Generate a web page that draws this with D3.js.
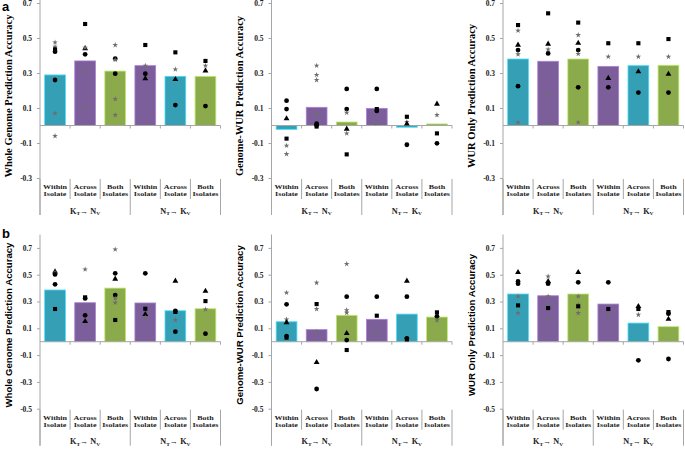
<!DOCTYPE html>
<html>
<head>
<meta charset="utf-8">
<script src="https://cdn.jsdelivr.net/npm/d3@7"></script>
<style>
  body { margin: 0; background: #fff; }
  svg { display: block; }
</style>
</head>
<body>
<svg id="chart" width="685" height="449"></svg>
<script>
// categories along the x axis (two lines each) and the two transfer groups
const categoryLines = [["Within", "Isolate"], ["Across", "Isolate"], ["Both", "Isolates"],
                       ["Within", "Isolate"], ["Across", "Isolate"], ["Both", "Isolates"]];
const groupLabels = [["K", "T", "N", "V"], ["N", "T", "K", "V"]];
const barColors = ["#35a0b5", "#7c5e9b", "#8aaa4c", "#7c5e9b", "#35a0b5", "#8aaa4c"];

const titles = ["Whole Genome Prediction Accuracy", "Genome-WUR Prediction Accuracy", "WUR Only Prediction Accuracy"];
const ticksA = [0.7, 0.5, 0.3, 0.1, -0.1, -0.3];
const ticksB = [0.7, 0.5, 0.3, 0.1, -0.1, -0.3, -0.5];

// bar heights (mean accuracy), one per category
const a1Bars = [0.289, 0.369, 0.311, 0.342, 0.281, 0.281];
const a2Bars = [-0.022, 0.104, 0.02, 0.098, -0.01, 0.009];
const a3Bars = [0.38, 0.367, 0.38, 0.338, 0.342, 0.344];
const b1Bars = [0.386, 0.291, 0.4, 0.289, 0.231, 0.246];
const b2Bars = [0.149, 0.09, 0.197, 0.167, 0.206, 0.184];
const b3Bars = [0.356, 0.343, 0.356, 0.281, 0.139, 0.112];

// individual points: [category, shape, value]
const a1Points = [
  [0, "star", 0.475], [0, "star", 0.45], [0, "square", 0.435], [0, "circle", 0.422], [0, "circle", 0.26], [0, "star", 0.07], [0, "star", -0.06],
  [1, "square", 0.58], [1, "triangle", 0.44], [1, "star", 0.445], [1, "circle", 0.407], [1, "star", 0.313], [1, "star", 0.104],
  [2, "star", 0.46], [2, "circle", 0.382], [2, "star", 0.375], [2, "circle", 0.296], [2, "star", 0.151], [2, "star", 0.06],
  [3, "square", 0.46], [3, "star", 0.342], [3, "circle", 0.296], [3, "triangle", 0.268],
  [4, "square", 0.418], [4, "star", 0.321], [4, "triangle", 0.264], [4, "circle", 0.117],
  [5, "square", 0.369], [5, "star", 0.342], [5, "triangle", 0.313], [5, "circle", 0.111]
];
const a2Points = [
  [0, "circle", 0.142], [0, "circle", 0.094], [0, "triangle", 0.039], [0, "square", -0.075], [0, "star", -0.115], [0, "star", -0.163],
  [1, "star", 0.342], [1, "star", 0.289], [1, "star", 0.26], [1, "star", 0.066], [1, "circle", 0.01], [1, "circle", 0.002], [1, "square", -0.006],
  [2, "circle", 0.209], [2, "circle", 0.094], [2, "star", 0.073], [2, "triangle", -0.02], [2, "star", -0.045], [2, "square", -0.165],
  [3, "circle", 0.209], [3, "square", 0.094], [3, "circle", 0.083], [3, "star", 0.012],
  [4, "square", 0.05], [4, "star", 0.02], [4, "triangle", 0.009], [4, "circle", -0.11],
  [5, "triangle", 0.123], [5, "star", 0.06], [5, "square", -0.045], [5, "circle", -0.102]
];
const a3Points = [
  [0, "square", 0.574], [0, "star", 0.542], [0, "triangle", 0.46], [0, "circle", 0.431], [0, "star", 0.407], [0, "circle", 0.225], [0, "star", 0.018],
  [1, "square", 0.641], [1, "triangle", 0.466], [1, "star", 0.435], [1, "circle", 0.412], [1, "star", 0.178], [1, "star", 0.018],
  [2, "square", 0.588], [2, "star", 0.517], [2, "triangle", 0.471], [2, "circle", 0.431], [2, "star", 0.409], [2, "circle", 0.218], [2, "star", 0.018],
  [3, "square", 0.47], [3, "star", 0.393], [3, "triangle", 0.27], [3, "circle", 0.218],
  [4, "square", 0.47], [4, "star", 0.393], [4, "triangle", 0.308], [4, "circle", 0.188],
  [5, "square", 0.494], [5, "star", 0.393], [5, "triangle", 0.294], [5, "circle", 0.188]
];
const b1Points = [
  [0, "triangle", 0.522], [0, "star", 0.515], [0, "circle", 0.502], [0, "circle", 0.428], [0, "square", 0.244],
  [1, "star", 0.54], [1, "square", 0.331], [1, "circle", 0.323], [1, "circle", 0.197], [1, "star", 0.162], [1, "triangle", 0.152],
  [2, "star", 0.689], [2, "circle", 0.51], [2, "triangle", 0.468], [2, "circle", 0.348], [2, "star", 0.323], [2, "star", 0.291], [2, "square", 0.162],
  [3, "circle", 0.51], [3, "square", 0.246], [3, "triangle", 0.204], [3, "star", 0.182],
  [4, "triangle", 0.453], [4, "circle", 0.229], [4, "square", 0.222], [4, "star", 0.162], [4, "circle", 0.075],
  [5, "triangle", 0.378], [5, "square", 0.303], [5, "star", 0.241], [5, "circle", 0.06]
];
const b2Points = [
  [0, "star", 0.366], [0, "circle", 0.279], [0, "star", 0.167], [0, "triangle", 0.142], [0, "circle", 0.042], [0, "square", 0.03],
  [1, "star", 0.44], [1, "square", 0.281], [1, "star", 0.244], [1, "star", 0.075], [1, "triangle", -0.154], [1, "circle", -0.353],
  [2, "star", 0.58], [2, "circle", 0.336], [2, "star", 0.236], [2, "star", 0.216], [2, "triangle", 0.062], [2, "circle", 0.012], [2, "square", -0.062],
  [3, "circle", 0.336], [3, "square", 0.194], [3, "star", 0.07],
  [4, "triangle", 0.453], [4, "circle", 0.336], [4, "circle", 0.025], [4, "square", 0.017],
  [5, "square", 0.219], [5, "circle", 0.189], [5, "star", 0.16]
];
const b3Points = [
  [0, "triangle", 0.517], [0, "circle", 0.45], [0, "circle", 0.433], [0, "star", 0.338], [0, "square", 0.271], [0, "star", 0.214],
  [1, "star", 0.488], [1, "triangle", 0.45], [1, "circle", 0.433], [1, "star", 0.338], [1, "star", 0.276], [1, "square", 0.251], [1, "star", 0.169],
  [2, "triangle", 0.517], [2, "circle", 0.443], [2, "star", 0.338], [2, "star", 0.276], [2, "square", 0.264], [2, "star", 0.214],
  [3, "circle", 0.443], [3, "square", 0.244], [3, "star", 0.201],
  [4, "triangle", 0.264], [4, "square", 0.244], [4, "star", 0.201], [4, "circle", -0.139],
  [5, "square", 0.221], [5, "circle", 0.209], [5, "triangle", 0.169], [5, "circle", -0.129]
];

const svg = d3.select("#chart");
const axisColor = "#a6a6a6";
const serif = "'Liberation Serif', 'Times New Roman', serif";
const sans = "'Liberation Sans', Arial, sans-serif";

const rows = [
  {label: "a", labelY: 11, domain: [-0.3, 0.7], range: [178, 3], top: 0, ticks: ticksA, titleY: 96, titleFont: serif, titleSize: 10.5,
   panels: [[a1Bars, a1Points], [a2Bars, a2Points], [a3Bars, a3Points]]},
  {label: "b", labelY: 238, domain: [-0.5, 0.8], range: [408.7, 234.5], top: 234.5, ticks: ticksB, titleY: 325, titleFont: sans, titleSize: 9.6,
   panels: [[b1Bars, b1Points], [b2Bars, b2Points], [b3Bars, b3Points]]}
];
const axisXs = [40, 271.5, 503];
const plotW = 180.5;

const symbolType = {circle: d3.symbolCircle, square: d3.symbolSquare, triangle: d3.symbolTriangle, star: d3.symbolStar};
const symbolSize = {circle: 18, square: 17, triangle: 15, star: 10};

rows.forEach(row => {
  svg.append("text")
    .attr("x", 2)
    .attr("y", row.labelY)
    .attr("font-family", sans)
    .attr("font-weight", "bold")
    .attr("font-size", 13)
    .text(row.label);

  const y = d3.scaleLinear().domain(row.domain).range(row.range);
  const catTop = y(row.domain[0]) + 1;

  row.panels.forEach(([bars, points], pi) => {
    const x0 = axisXs[pi];
    const x = d3.scaleBand().domain(d3.range(6)).range([x0, x0 + plotW]).paddingInner(0.31).paddingOuter(0.155);
    const step = x.step();
    const g = svg.append("g");

    // y axis title
    g.append("text")
      .attr("transform", `translate(${x0 - 32},${row.titleY}) rotate(-90)`)
      .attr("text-anchor", "middle")
      .attr("dominant-baseline", "central")
      .attr("font-family", row.titleFont)
      .attr("font-weight", "bold")
      .attr("font-size", row.titleSize)
      .text(titles[pi]);

    // bars
    g.selectAll(".bar")
      .data(bars)
      .join("rect")
      .attr("class", "bar")
      .attr("x", (d, i) => x(i))
      .attr("width", x.bandwidth())
      .attr("y", d => y(Math.max(0, d)))
      .attr("height", d => Math.abs(y(d) - y(0)))
      .attr("fill", (d, i) => barColors[i])
      .attr("stroke", (d, i) => d3.color(barColors[i]).brighter(0.9))
      .attr("stroke-width", 0.8);

    // y axis
    const yAxis = g.append("g")
      .attr("transform", `translate(${x0},0)`)
      .call(d3.axisLeft(y).tickValues(row.ticks).tickSize(3).tickPadding(5).tickFormat(d => d.toFixed(1)));
    yAxis.select(".domain").remove();
    yAxis.selectAll(".tick line").attr("stroke", axisColor);
    yAxis.selectAll(".tick text")
      .attr("font-family", serif)
      .attr("font-weight", "bold")
      .attr("font-size", 7.5)
      .attr("fill", "#222");
    g.append("line")
      .attr("x1", x0).attr("x2", x0)
      .attr("y1", row.top).attr("y2", catTop + 36)
      .attr("stroke", axisColor);

    // zero line with ticks at category boundaries
    g.append("line")
      .attr("x1", x0).attr("x2", x0 + plotW)
      .attr("y1", y(0)).attr("y2", y(0))
      .attr("stroke", axisColor);
    g.selectAll(".xtick")
      .data(d3.range(1, 7))
      .join("line")
      .attr("x1", i => x0 + i * step).attr("x2", i => x0 + i * step)
      .attr("y1", y(0)).attr("y2", y(0) + 3)
      .attr("stroke", axisColor);

    // individual points
    g.selectAll(".pt")
      .data(points)
      .join("path")
      .attr("class", "pt")
      .attr("transform", d => `translate(${x(d[0]) + x.bandwidth() / 2},${y(d[2])})`)
      .attr("d", d => d3.symbol(symbolType[d[1]], symbolSize[d[1]])())
      .attr("fill", d => d[1] === "star" ? "#6e6e6e" : "#000");

    // category boxes
    g.selectAll(".sep")
      .data(d3.range(0, 7))
      .join("line")
      .attr("x1", i => x0 + i * step).attr("x2", i => x0 + i * step)
      .attr("y1", catTop).attr("y2", i => i % 3 === 0 ? catTop + 36 : catTop + 20)
      .attr("stroke", axisColor);

    categoryLines.forEach((lines, ci) => {
      lines.forEach((t, li) => {
        g.append("text")
          .attr("transform", `translate(${x0 + (ci + 0.5) * step},${catTop + 10 + li * 6.8}) scale(1.3,1)`)
          .attr("text-anchor", "middle")
          .attr("font-family", serif)
          .attr("font-weight", "bold")
          .attr("font-size", 6.2)
          .attr("fill", "#222")
          .text(t);
      });
    });

    groupLabels.forEach((gl, gi) => {
      const t = g.append("text")
        .attr("transform", `translate(${x0 + (gi * 3 + 1.5) * step},${catTop + 34.5}) scale(1.1,1)`)
        .attr("text-anchor", "middle")
        .attr("font-family", serif)
        .attr("font-weight", "bold")
        .attr("font-size", 7.5)
        .attr("fill", "#222");
      t.append("tspan").text(gl[0]);
      t.append("tspan").attr("font-size", 5).attr("dy", 1.5).text(gl[1]);
      t.append("tspan").attr("dy", -1.5).text("\u2192 " + gl[2]);
      t.append("tspan").attr("font-size", 5).attr("dy", 1.5).text(gl[3]);
    });
  });
});
</script>
</body>
</html>
